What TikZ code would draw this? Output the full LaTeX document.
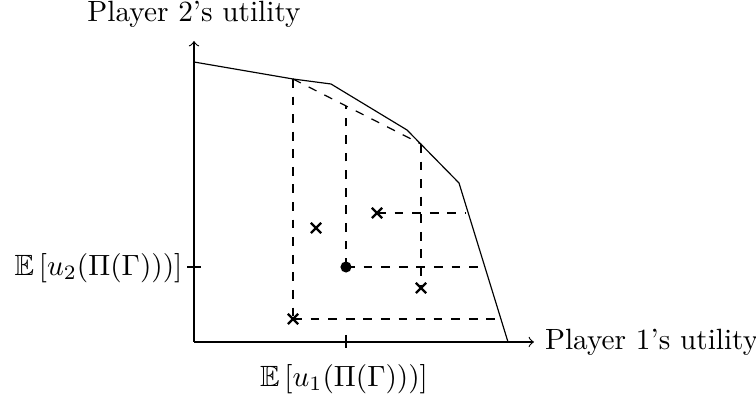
\documentclass[tikz,border=0pt]{standalone}
\usepackage{amssymb}
\usetikzlibrary{shapes.misc}
\begin{document}
\begin{tikzpicture}[x=0.012cm,y=-0.012cm,
  axis/.style={->},
  frontier/.style={},
  guide/.style={dashed},
  crossmark/.style={cross out,draw,thick,minimum size=2.7pt,inner sep=0pt},
  dotmark/.style={circle,fill,minimum size=3.8pt,inner sep=0pt},
  lbl/.style={inner sep=0pt}]
\useasboundingbox (0,0) rectangle (756,394);
% axes
\coordinate (O) at (194,342);
\coordinate (Ytop) at (194,41);
\coordinate (Xend) at (534,342);
\draw[axis] (O) -- (Ytop) node[above,lbl,yshift=4.5pt] (ylab) {Player 2's utility};
\draw[axis] (O) -- (Xend) node[right,lbl,xshift=3.6pt] (xlab) {Player 1's utility};
% ticks
\coordinate (ty1) at (187,267);
\coordinate (ty2) at (201,267);
\coordinate (tx1) at (346,335);
\coordinate (tx2) at (346,348);
\draw (ty1) -- (ty2);
\draw (tx1) -- (tx2);
\node[lbl,anchor=east] (eu2) at (183,268) {$\mathbb{E}\left[u_2(\Pi(\Gamma)))\right]$};
\node[lbl] (eu1) at (344,379) {$\mathbb{E}\left[u_1(\Pi(\Gamma)))\right]$};
% frontier
\coordinate (P0) at (194,62);
\coordinate (P1) at (293,79);
\coordinate (P2) at (331,84);
\coordinate (P3) at (407,130);
\coordinate (P4) at (459,183);
\coordinate (P5) at (508,342);
\draw[frontier] (P0) -- (P1) -- (P2) -- (P3) -- (P4) -- (P5);
% dashed chord
\coordinate (Q) at (421,144);
\coordinate (M) at (346,106);
\draw[guide] (P1) -- (Q);
% points
\node[crossmark] (c1) at (293,319) {};
\node[crossmark] (c2) at (421,288) {};
\node[crossmark] (c3) at (377,213) {};
\node[crossmark] (c4) at (316,228) {};
\node[dotmark] (d) at (346,267) {};
% frontier hits
\coordinate (h1) at (502,319);
\coordinate (h2) at (466,213);
\coordinate (h3) at (483,267);
\draw[guide] (P1) -- (c1.center);
\draw[guide] (c1.center) -- (h1);
\draw[guide] (Q) -- (c2.center);
\draw[guide] (c3.center) -- (h2);
\draw[guide] (d.center) -- (M);
\draw[guide] (d.center) -- (h3);
\end{tikzpicture}
\end{document}
